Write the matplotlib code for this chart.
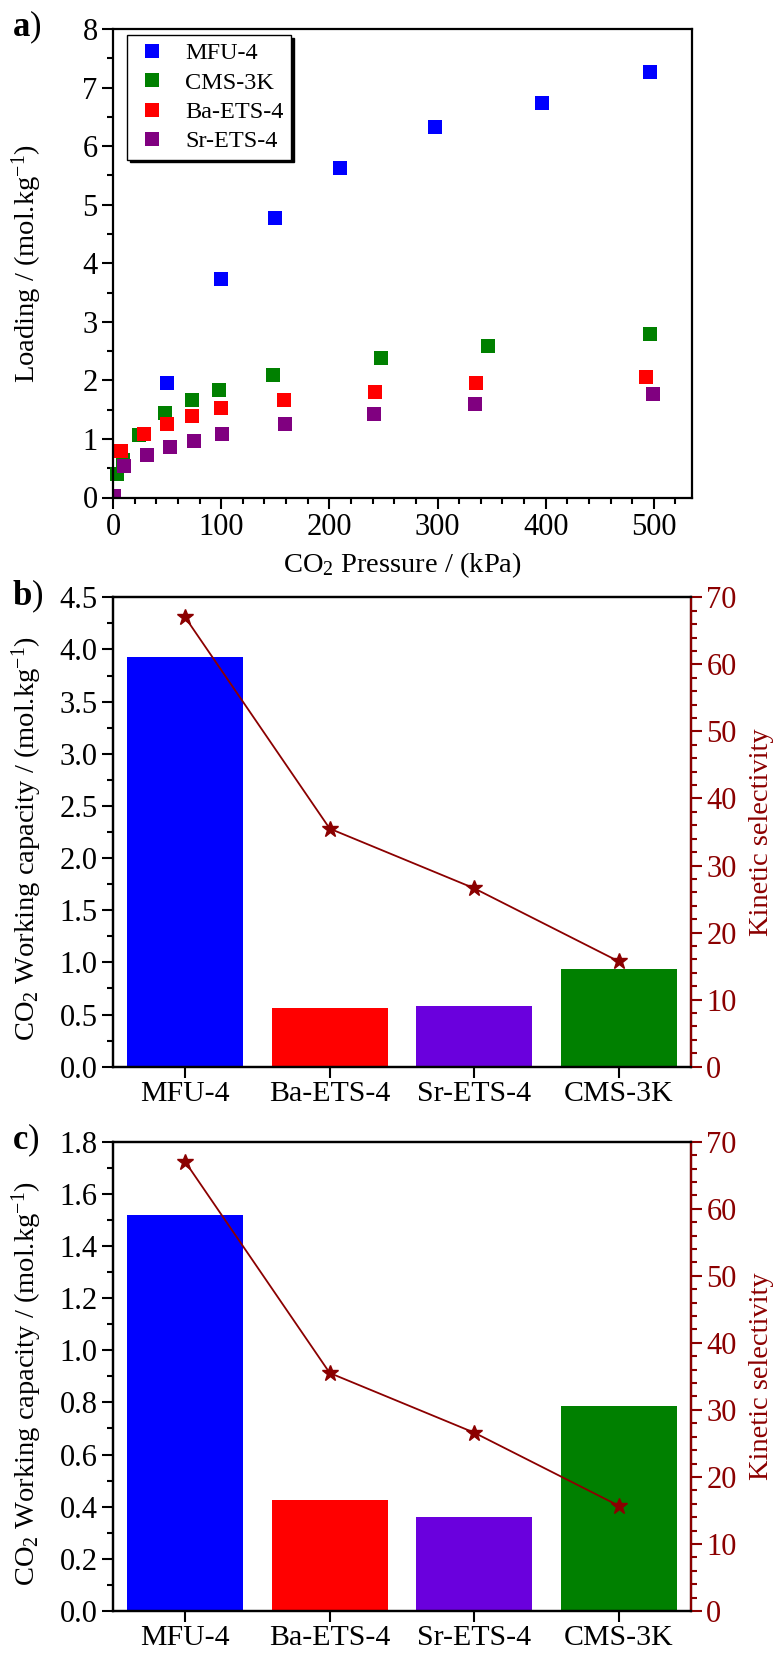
import matplotlib
matplotlib.use("Agg")
import matplotlib.pyplot as plt
from matplotlib.ticker import MultipleLocator, FormatStrFormatter

plt.rcParams['font.family'] = ['Liberation Serif', 'DejaVu Serif']
plt.rcParams['mathtext.fontset'] = 'custom'
plt.rcParams['mathtext.rm'] = 'Liberation Serif'
plt.rcParams['mathtext.bf'] = 'Liberation Serif:bold'
plt.rcParams['mathtext.it'] = 'Liberation Serif:italic'

# panel a: isotherms (kPa, mol/kg)
mfu_p = [50, 100, 150, 210, 298, 397, 496]
mfu_q = [1.96, 3.73, 4.78, 5.63, 6.33, 6.74, 7.26]
cms_p = [4, 9, 24, 48, 73, 98, 148, 248, 347, 496]
cms_q = [0.40, 0.64, 1.07, 1.45, 1.67, 1.84, 2.09, 2.39, 2.59, 2.79]
ba_p = [7, 29, 50, 73, 100, 158, 242, 336, 493]
ba_q = [0.80, 1.08, 1.26, 1.39, 1.52, 1.66, 1.81, 1.96, 2.06]
sr_p = [1, 10, 31, 53, 75, 101, 159, 241, 335, 499]
sr_q = [0.02, 0.54, 0.73, 0.87, 0.97, 1.08, 1.26, 1.42, 1.59, 1.76]

# panels b, c
materials = ['MFU-4', 'Ba-ETS-4', 'Sr-ETS-4', 'CMS-3K']
cap_b = [3.93, 0.56, 0.58, 0.94]
cap_c = [1.52, 0.425, 0.36, 0.785]
selectivity = [67.0, 35.5, 26.6, 15.7]

bar_colors = ['#0000FF', '#FF0000', '#6A00DD', '#008000']
dark_red = '#8B0000'
TFS = 22   # tick labels
LFS = 20.5  # axis labels

W, H = 782, 1653
fig = plt.figure(figsize=(W / 100, H / 100), dpi=100)


def box(left, top, right, bottom):
    return [left / W, 1 - bottom / H, (right - left) / W, (bottom - top) / H]


def style_left(ax):
    for s in ax.spines.values():
        s.set_linewidth(1.6)
    ax.tick_params(which='both', direction='out', width=1.5, labelsize=TFS,
                   top=False, right=False, pad=3)
    ax.tick_params(which='major', length=8)
    ax.tick_params(which='minor', length=4.5)


# ---- a ----
ax1 = fig.add_axes(box(113, 29, 691.7, 497.5))
ms = 9.5
ax1.plot(mfu_p, mfu_q, 's', color='#0000FF', ms=ms, mew=0, label='MFU-4', clip_on=False)
ax1.plot(cms_p, cms_q, 's', color='#008000', ms=ms, mew=0, label='CMS-3K', clip_on=False)
ax1.plot(ba_p, ba_q, 's', color='#FF0000', ms=ms, mew=0, label='Ba-ETS-4', clip_on=False)
ax1.plot(sr_p, sr_q, 's', color='#800080', ms=ms, mew=0, label='Sr-ETS-4', clip_on=True)
ax1.set_xlim(0, 535)
ax1.set_ylim(0, 8)
ax1.xaxis.set_major_locator(MultipleLocator(100))
ax1.xaxis.set_minor_locator(MultipleLocator(20))
ax1.yaxis.set_major_locator(MultipleLocator(1))
ax1.yaxis.set_minor_locator(MultipleLocator(0.5))
style_left(ax1)
ax1.set_xlabel('CO$_2$ Pressure / (kPa)', fontsize=LFS, labelpad=6)
ax1.set_ylabel('Loading / (mol.kg$^{-1}$)', fontsize=LFS)
ax1.yaxis.set_label_coords(-0.12, 0.5)
leg = ax1.legend(loc='upper left', bbox_to_anchor=(0.024, 0.987), borderaxespad=0,
                 fontsize=17.5, frameon=True, fancybox=False, edgecolor='black',
                 shadow={'color': 'black', 'alpha': 1}, handlelength=1.5,
                 handletextpad=0.6, labelspacing=0.3, borderpad=0.3)
leg.get_frame().set_linewidth(1.0)


def bar_panel(top, bottom, caps, ymax, major, minor):
    ax = fig.add_axes(box(113, top, 691, bottom))
    x = range(len(materials))
    ax.bar(x, caps, width=0.8, color=bar_colors)
    ax.set_xlim(-0.5, 3.5)
    ax.set_ylim(0, ymax)
    ax.set_xticks(list(x))
    ax.set_xticklabels(materials)
    ax.yaxis.set_major_locator(MultipleLocator(major))
    ax.yaxis.set_minor_locator(MultipleLocator(minor))
    style_left(ax)
    ax.tick_params(axis='x', pad=2, labelsize=21.5)
    ax.yaxis.set_major_formatter(FormatStrFormatter('%.1f'))
    ax.set_ylabel('CO$_2$ Working capacity / (mol.kg$^{-1}$)', fontsize=LFS)
    ax.yaxis.set_label_coords(-0.12, 0.485)

    ax2 = ax.twinx()
    ax2.plot(list(x), selectivity, '-*', color=dark_red, lw=1.3, ms=12)
    ax2.set_ylim(0, 70)
    ax2.yaxis.set_major_locator(MultipleLocator(10))
    ax2.yaxis.set_minor_locator(MultipleLocator(2))
    for s in ax2.spines.values():
        s.set_linewidth(1.6)
    ax2.spines['right'].set_color(dark_red)
    ax2.tick_params(which='both', direction='out', width=1.5, labelsize=TFS,
                    colors=dark_red, pad=3)
    ax2.tick_params(which='major', length=8)
    ax2.tick_params(which='minor', length=4.5)
    ax2.set_ylabel('Kinetic selectivity', fontsize=LFS, color=dark_red)
    ax2.yaxis.set_label_coords(1.10, 0.5)
    return ax


bar_panel(597.3, 1066.7, cap_b, 4.5, 0.5, 0.25)
bar_panel(1141.7, 1611, cap_c, 1.8, 0.2, 0.1)

fig.text(12 / W, 1 - 36 / H, r'$\mathbf{a}$)', fontsize=25, va='baseline')
fig.text(12 / W, 1 - 605 / H, r'$\mathbf{b}$)', fontsize=25, va='baseline')
fig.text(12 / W, 1 - 1149 / H, r'$\mathbf{c}$)', fontsize=25, va='baseline')

fig.savefig('out.png', dpi=100)
